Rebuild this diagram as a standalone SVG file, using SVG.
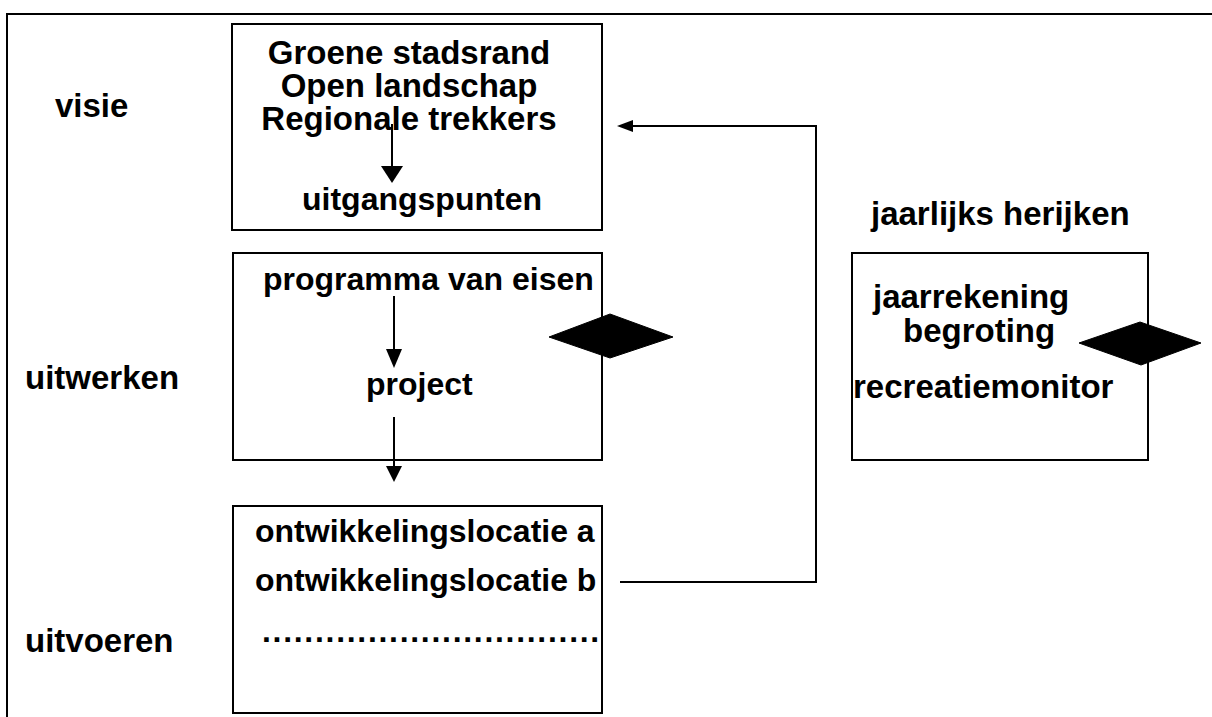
<svg xmlns="http://www.w3.org/2000/svg" width="1212" height="717" viewBox="0 0 1212 717">
<style>
text{font-family:"Liberation Sans",Arial,sans-serif;font-weight:bold;font-size:32px;fill:#000}
.lg{font-size:33px}
.box{fill:#fff;stroke:#000;stroke-width:2}
.ln{fill:none;stroke:#000;stroke-width:2}
.dia{fill:#000;stroke:#000;stroke-width:1}
.head{fill:#000}
</style>
<rect width="1212" height="717" fill="#fff"/>
<g id="frame">
<path class="ln" d="M7,717 V14 H1212"/>
</g>
<g id="labels">
<text class="lg" x="55" y="117">visie</text>
<text class="lg" x="25" y="389">uitwerken</text>
<text class="lg" x="25" y="652">uitvoeren</text>
<text class="lg" x="871" y="225">jaarlijks herijken</text>
</g>
<g id="node-visie">
<rect class="box" x="232" y="24" width="370" height="206"/>
<text class="lg" x="409" y="64" text-anchor="middle">Groene stadsrand</text>
<text class="lg" x="409" y="97" text-anchor="middle">Open landschap</text>
<text class="lg" x="409" y="130" text-anchor="middle">Regionale trekkers</text>
<text x="302" y="210">uitgangspunten</text>
</g>
<g id="node-uitwerken">
<rect class="box" x="233" y="253" width="369" height="207"/>
<text x="263" y="290">programma van eisen</text>
<text x="366" y="395">project</text>
</g>
<g id="node-uitvoeren">
<rect class="box" x="233" y="506" width="369" height="207"/>
<text x="255" y="542">ontwikkelingslocatie a</text>
<text x="255" y="591">ontwikkelingslocatie b</text>
<text x="262" y="642" style="letter-spacing:1.7px">................................</text>
</g>
<g id="node-herijken">
<rect class="box" x="852" y="253" width="296" height="207"/>
<text class="lg" x="873" y="308">jaarrekening</text>
<text class="lg" x="903" y="342">begroting</text>
<text class="lg" x="853" y="398">recreatiemonitor</text>
</g>
<g id="diamonds">
<polygon class="dia" points="549,337 610,314 673,337 610,358"/>
<polygon class="dia" points="1079,343 1140,322 1201,343 1141,365"/>
</g>
<g id="connectors">
<path d="M392,124 V170" class="ln"/>
<path class="head" d="M381,166 L403,166 L392,183 z"/>
<path d="M394,296 V352" class="ln"/>
<path class="head" d="M386,349 L402,349 L394,368 z"/>
<path d="M394,417 V468" class="ln"/>
<path class="head" d="M386,466 L402,466 L394,482 z"/>
<path d="M620,582 H816 V126 H630" class="ln"/>
<path class="head" d="M633,120 L633,132 L617,126 z"/>
</g>
</svg>
